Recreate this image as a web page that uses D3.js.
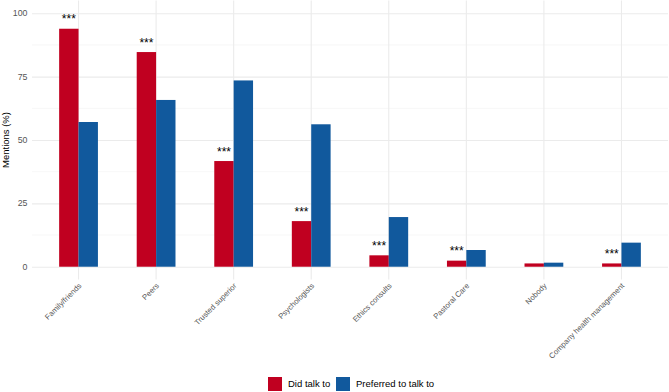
<!DOCTYPE html>
<html>
<head>
<meta charset="utf-8">
<script src="https://cdn.jsdelivr.net/npm/d3@7"></script>
<style>
  html, body { margin: 0; padding: 0; background: #fff; }
  svg { display: block; font-family: "Liberation Sans", Arial, sans-serif; }
</style>
</head>
<body>
<svg id="chart" width="669" height="392"></svg>
<script>
// ─── Data ────────────────────────────────────────────────────────────────────
const categories = [
  'Family/friends', 'Peers', 'Trusted superior', 'Psychologists',
  'Ethics consults', 'Pastoral Care', 'Nobody', 'Company health management'
];
const seriesNames = ['Did talk to', 'Preferred to talk to'];
const didTalk   = [93.9, 84.7, 41.7, 18.0, 4.5, 2.4, 1.3, 1.3];
const preferred = [57.1, 65.8, 73.5, 56.2, 19.6, 6.6, 1.6, 9.5];
const significance = ['***', '***', '***', '***', '***', '***', '', '***'];
const yTicks = [0, 25, 50, 75, 100];
const yMinor = [12.5, 37.5, 62.5, 87.5];

const colors = { 'Did talk to': '#c00020', 'Preferred to talk to': '#11599d' };

// ─── Layout ──────────────────────────────────────────────────────────────────
const svg = d3.select('#chart');
const panel = { left: 32, right: 668, top: 0.6, bottom: 279.4 };

// ggplot-style discrete expansion: 0.6 step either side of the outer centres
const step = (panel.right - panel.left) / (categories.length - 1 + 1.2);
const x = d3.scalePoint()
  .domain(categories)
  .range([panel.left + 0.6 * step, panel.right - 0.6 * step]);

const xSub = d3.scaleBand()
  .domain(seriesNames)
  .range([-step * 0.25, step * 0.25]);

const y = d3.scaleLinear()
  .domain([-5, 105])
  .range([panel.bottom, panel.top]);

// ─── Grid ────────────────────────────────────────────────────────────────────
const grid = svg.append('g');
grid.selectAll('.minor')
  .data(yMinor)
  .join('line')
  .attr('x1', panel.left).attr('x2', panel.right)
  .attr('y1', d => y(d)).attr('y2', d => y(d))
  .attr('stroke', '#f2f2f2').attr('stroke-width', 0.6);

grid.append('g')
  .attr('transform', `translate(${panel.left},0)`)
  .call(d3.axisLeft(y).tickValues(yTicks).tickSize(-(panel.right - panel.left)).tickFormat(''))
  .call(sel => {
    sel.select('.domain').remove();
    sel.selectAll('line').attr('stroke', '#ebebeb').attr('stroke-width', 1.1);
  });

grid.selectAll('.vgrid')
  .data(categories)
  .join('line')
  .attr('x1', d => x(d)).attr('x2', d => x(d))
  .attr('y1', panel.top).attr('y2', panel.bottom)
  .attr('stroke', '#ebebeb').attr('stroke-width', 1.1);

// ─── Bars ────────────────────────────────────────────────────────────────────
const rows = categories.map((c, i) => ({
  cat: c,
  values: [
    { key: seriesNames[0], value: didTalk[i] },
    { key: seriesNames[1], value: preferred[i] }
  ],
  sig: significance[i]
}));

const groups = svg.append('g')
  .selectAll('g')
  .data(rows)
  .join('g')
  .attr('transform', d => `translate(${x(d.cat)},0)`);

groups.selectAll('rect')
  .data(d => d.values)
  .join('rect')
  .attr('x', d => xSub(d.key))
  .attr('width', xSub.bandwidth())
  .attr('y', d => y(d.value))
  .attr('height', d => y(0) - y(d.value))
  .attr('fill', d => colors[d.key]);

// Significance stars above the "Did talk to" bar
groups.append('text')
  .attr('x', xSub(seriesNames[0]) + xSub.bandwidth() / 2)
  .attr('y', d => y(d.values[0].value) - 5.5)
  .attr('text-anchor', 'middle')
  .attr('fill', '#000')
  .style('font-size', '12px')
  .text(d => d.sig);

// ─── Axes ────────────────────────────────────────────────────────────────────
svg.append('g')
  .selectAll('text')
  .data(yTicks)
  .join('text')
  .attr('x', 27.5)
  .attr('y', d => y(d))
  .attr('dy', '0.35em')
  .attr('text-anchor', 'end')
  .attr('fill', '#555')
  .style('font-size', '8.8px')
  .text(d => d);

svg.append('g')
  .selectAll('text')
  .data(categories)
  .join('text')
  .attr('transform', d => `translate(${x(d) + 1.5},${panel.bottom + 5}) rotate(-45)`)
  .attr('text-anchor', 'end')
  .attr('dy', '0.35em')
  .attr('fill', '#555')
  .style('font-size', '7.7px')
  .text(d => d);

svg.append('text')
  .attr('transform', `translate(9,${(panel.top + panel.bottom) / 2}) rotate(-90)`)
  .attr('text-anchor', 'middle')
  .attr('fill', '#000')
  .style('font-size', '9.5px')
  .text('Mentions (%)');

// ─── Legend ──────────────────────────────────────────────────────────────────
const legendItems = [
  { key: seriesNames[0], x: 268 },
  { key: seriesNames[1], x: 336 }
];
const legend = svg.append('g')
  .selectAll('g')
  .data(legendItems)
  .join('g')
  .attr('transform', d => `translate(${d.x},377)`);

legend.append('rect')
  .attr('width', 14).attr('height', 14)
  .attr('fill', d => colors[d.key]);

legend.append('text')
  .attr('x', 20).attr('y', 7)
  .attr('dy', '0.35em')
  .attr('fill', '#000')
  .style('font-size', '9.5px')
  .text(d => d.key);
</script>
</body>
</html>
